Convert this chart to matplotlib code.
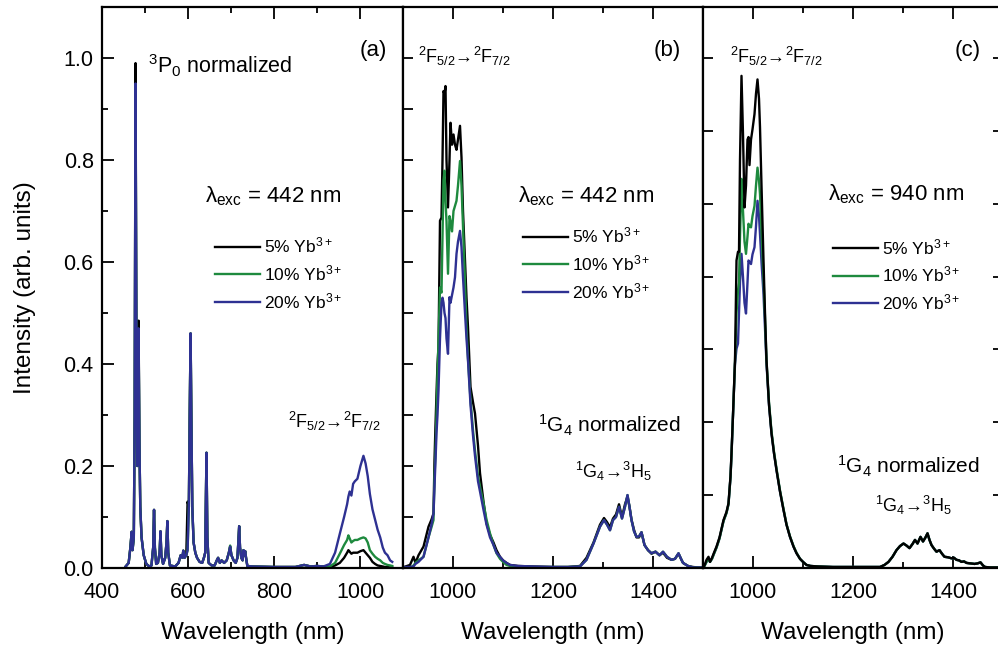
import matplotlib
matplotlib.use('Agg')
import matplotlib.pyplot as plt
from matplotlib.ticker import MultipleLocator, FormatStrFormatter, NullFormatter, FixedLocator

plt.rcParams['font.family'] = ['Liberation Sans', 'DejaVu Sans']
plt.rcParams['mathtext.fontset'] = 'custom'
plt.rcParams['mathtext.rm'] = 'Liberation Sans'
plt.rcParams['mathtext.it'] = 'Liberation Sans:italic'
plt.rcParams['mathtext.bf'] = 'Liberation Sans:bold'

labels = ['5% Yb$^{3+}$', '10% Yb$^{3+}$', '20% Yb$^{3+}$']
colors = ['black', '#1e8a3e', '#2e3192']

# --- panel (a): visible part of the spectrum (exc 442 nm) ---
a_vis_wl = [455, 462, 466, 469, 471, 474, 476, 478, 480, 482,
            484, 485, 487, 489, 492, 497, 503, 510, 515, 519,
            521, 523, 526, 530, 534, 536, 538, 542, 547, 550,
            552, 554, 558, 570, 578, 583, 587, 589, 592, 596,
            599, 602, 604, 606, 608, 610, 613, 617, 621, 627,
            633, 637, 640, 643, 645, 648, 655, 662, 667, 670,
            674, 678, 684, 690, 695, 698, 701, 706, 711, 715,
            717, 719, 721, 724, 727, 729, 731, 733, 735, 738,
            750, 800, 850, 870, 885, 900, 915]
a_vis_black = [0.003, 0.010, 0.040, 0.071, 0.035, 0.060, 0.300, 0.990, 0.450, 0.200,
               0.330, 0.485, 0.250, 0.120, 0.060, 0.025, 0.008, 0.003, 0.005, 0.040,
               0.114, 0.040, 0.008, 0.010, 0.030, 0.072, 0.025, 0.008, 0.020, 0.050,
               0.092, 0.030, 0.005, 0.003, 0.010, 0.025, 0.020, 0.034, 0.020, 0.025,
               0.130, 0.120, 0.300, 0.460, 0.280, 0.120, 0.050, 0.030, 0.020, 0.012,
               0.010, 0.020, 0.030, 0.226, 0.060, 0.010, 0.005, 0.005, 0.015, 0.020,
               0.010, 0.015, 0.010, 0.015, 0.030, 0.042, 0.025, 0.015, 0.010, 0.020,
               0.050, 0.082, 0.040, 0.020, 0.015, 0.035, 0.025, 0.033, 0.020, 0.004,
               0.003, 0.002, 0.002, 0.006, 0.003, 0.004, 0.003]
a_vis_green = [0.003, 0.010, 0.040, 0.071, 0.035, 0.060, 0.300, 0.930, 0.450, 0.200,
               0.330, 0.460, 0.250, 0.120, 0.060, 0.025, 0.008, 0.003, 0.005, 0.040,
               0.114, 0.040, 0.008, 0.010, 0.030, 0.072, 0.025, 0.008, 0.020, 0.050,
               0.092, 0.030, 0.005, 0.003, 0.010, 0.025, 0.020, 0.034, 0.020, 0.025,
               0.035, 0.120, 0.300, 0.460, 0.280, 0.120, 0.050, 0.030, 0.020, 0.012,
               0.010, 0.020, 0.030, 0.226, 0.060, 0.010, 0.005, 0.005, 0.015, 0.020,
               0.010, 0.015, 0.010, 0.015, 0.030, 0.044, 0.025, 0.015, 0.010, 0.020,
               0.050, 0.082, 0.040, 0.020, 0.015, 0.035, 0.025, 0.033, 0.020, 0.004,
               0.003, 0.002, 0.002, 0.006, 0.003, 0.004, 0.003]
a_vis_blue = [0.003, 0.010, 0.040, 0.071, 0.035, 0.060, 0.300, 0.950, 0.450, 0.200,
              0.330, 0.470, 0.250, 0.120, 0.060, 0.025, 0.008, 0.003, 0.005, 0.040,
              0.114, 0.040, 0.008, 0.010, 0.030, 0.072, 0.025, 0.008, 0.020, 0.050,
              0.092, 0.030, 0.005, 0.003, 0.010, 0.025, 0.020, 0.034, 0.020, 0.025,
              0.035, 0.120, 0.300, 0.460, 0.280, 0.120, 0.050, 0.030, 0.020, 0.012,
              0.010, 0.020, 0.030, 0.226, 0.060, 0.010, 0.005, 0.005, 0.015, 0.020,
              0.010, 0.015, 0.010, 0.015, 0.030, 0.042, 0.025, 0.015, 0.010, 0.020,
              0.050, 0.082, 0.040, 0.020, 0.015, 0.035, 0.025, 0.033, 0.020, 0.004,
              0.003, 0.002, 0.002, 0.006, 0.003, 0.004, 0.003]

# --- panel (a): Yb NIR band ---
a_nir_wl = [930, 942, 953, 963, 970, 973, 976, 980, 984, 988,
            994, 1001, 1008, 1013, 1018, 1023, 1029, 1035, 1041, 1047,
            1053, 1058, 1064, 1070, 1075]
a_nir_black = [0.002, 0.005, 0.010, 0.020, 0.030, 0.035, 0.032, 0.028, 0.030, 0.030,
               0.030, 0.033, 0.035, 0.030, 0.025, 0.020, 0.012, 0.008, 0.005, 0.004,
               0.003, 0.002, 0.002, 0.001, 0.001]
a_nir_green = [0.003, 0.010, 0.028, 0.045, 0.055, 0.064, 0.058, 0.050, 0.053, 0.055,
               0.055, 0.058, 0.060, 0.058, 0.050, 0.035, 0.028, 0.022, 0.018, 0.015,
               0.010, 0.008, 0.006, 0.005, 0.004]
a_nir_blue = [0.008, 0.030, 0.067, 0.100, 0.125, 0.140, 0.150, 0.142, 0.165, 0.170,
              0.175, 0.200, 0.220, 0.205, 0.180, 0.145, 0.115, 0.095, 0.075, 0.060,
              0.040, 0.030, 0.025, 0.015, 0.012]

# --- panel (b): exc 442 nm, NIR ---
b_wl = [905, 914, 921, 925, 931, 941, 951, 957, 961, 963,
        965, 967, 969, 971, 974, 977, 979, 981, 983, 985,
        987, 990, 993, 995, 998, 1001, 1004, 1007, 1010, 1014,
        1017, 1020, 1024, 1027, 1030, 1035, 1040, 1044, 1050, 1054,
        1061, 1067, 1074, 1081, 1087, 1094, 1100, 1107, 1114, 1130,
        1160, 1200, 1230, 1254, 1267, 1281, 1294, 1302, 1308, 1314,
        1320, 1326, 1332, 1338, 1344, 1349, 1353, 1357, 1362, 1367,
        1372, 1377, 1383, 1390, 1397, 1405, 1413, 1420, 1428, 1437,
        1444, 1451, 1456, 1460, 1470, 1480, 1490, 1500]
b_black = [0.003, 0.006, 0.022, 0.010, 0.025, 0.042, 0.081, 0.095, 0.107, 0.211,
           0.280, 0.342, 0.400, 0.433, 0.681, 0.687, 0.800, 0.935, 0.930, 0.945,
           0.800, 0.707, 0.800, 0.873, 0.830, 0.850, 0.830, 0.820, 0.840, 0.867,
           0.805, 0.700, 0.603, 0.530, 0.472, 0.355, 0.325, 0.303, 0.240, 0.186,
           0.130, 0.088, 0.065, 0.050, 0.035, 0.022, 0.015, 0.010, 0.006, 0.004,
           0.003, 0.002, 0.002, 0.004, 0.020, 0.050, 0.085, 0.098, 0.090, 0.080,
           0.097, 0.105, 0.125, 0.100, 0.125, 0.140, 0.120, 0.095, 0.075, 0.060,
           0.060, 0.070, 0.045, 0.035, 0.028, 0.032, 0.025, 0.030, 0.020, 0.016,
           0.018, 0.028, 0.018, 0.010, 0.004, 0.002, 0.001, 0.001]
b_green = [0.001, 0.000, 0.005, 0.010, 0.015, 0.022, 0.060, 0.080, 0.094, 0.180,
           0.225, 0.300, 0.380, 0.446, 0.550, 0.540, 0.650, 0.760, 0.779, 0.720,
           0.680, 0.577, 0.690, 0.680, 0.660, 0.700, 0.710, 0.720, 0.750, 0.798,
           0.750, 0.670, 0.560, 0.472, 0.410, 0.330, 0.270, 0.230, 0.180, 0.160,
           0.127, 0.095, 0.068, 0.045, 0.029, 0.018, 0.012, 0.006, 0.004, 0.003,
           0.002, 0.002, 0.002, 0.003, 0.016, 0.048, 0.081, 0.094, 0.085, 0.074,
           0.094, 0.100, 0.120, 0.097, 0.120, 0.143, 0.120, 0.094, 0.072, 0.061,
           0.062, 0.070, 0.045, 0.035, 0.029, 0.032, 0.025, 0.032, 0.022, 0.016,
           0.018, 0.029, 0.018, 0.010, 0.004, 0.001, 0.001, 0.001]
b_blue = [0.002, 0.002, 0.003, 0.008, 0.012, 0.022, 0.060, 0.085, 0.107, 0.160,
          0.210, 0.264, 0.300, 0.348, 0.450, 0.520, 0.530, 0.520, 0.500, 0.490,
          0.450, 0.420, 0.531, 0.520, 0.535, 0.550, 0.570, 0.616, 0.640, 0.661,
          0.629, 0.570, 0.500, 0.450, 0.407, 0.320, 0.260, 0.220, 0.170, 0.150,
          0.114, 0.085, 0.060, 0.045, 0.030, 0.022, 0.015, 0.010, 0.006, 0.004,
          0.003, 0.002, 0.002, 0.003, 0.016, 0.048, 0.081, 0.094, 0.085, 0.074,
          0.094, 0.100, 0.120, 0.097, 0.120, 0.143, 0.120, 0.094, 0.072, 0.061,
          0.062, 0.070, 0.045, 0.035, 0.029, 0.032, 0.025, 0.032, 0.022, 0.016,
          0.018, 0.029, 0.018, 0.010, 0.004, 0.001, 0.001, 0.001]

# --- panel (c): exc 940 nm, NIR ---
c_wl = [900, 903, 907, 911, 914, 918, 922, 927, 933, 941,
        947, 951, 955, 957, 960, 964, 967, 970, 972, 974,
        977, 980, 983, 986, 989, 991, 993, 996, 999, 1003,
        1006, 1009, 1012, 1014, 1017, 1021, 1024, 1027, 1032, 1037,
        1042, 1047, 1054, 1061, 1067, 1074, 1081, 1087, 1094, 1100,
        1107, 1115, 1130, 1160, 1200, 1230, 1254, 1263, 1271, 1279,
        1287, 1294, 1301, 1307, 1313, 1319, 1324, 1329, 1335, 1340,
        1345, 1349, 1353, 1357, 1362, 1367, 1373, 1378, 1383, 1390,
        1397, 1402, 1407, 1412, 1417, 1422, 1427, 1435, 1443, 1449,
        1455, 1460, 1464, 1475, 1490, 1500]
c_black = [0.002, 0.005, 0.016, 0.022, 0.012, 0.020, 0.030, 0.042, 0.060, 0.094,
           0.110, 0.127, 0.180, 0.225, 0.300, 0.407, 0.603, 0.620, 0.620, 0.800,
           0.965, 0.850, 0.707, 0.750, 0.840, 0.845, 0.790, 0.840, 0.860, 0.890,
           0.930, 0.958, 0.920, 0.864, 0.750, 0.603, 0.500, 0.407, 0.320, 0.264,
           0.225, 0.192, 0.150, 0.114, 0.085, 0.061, 0.042, 0.029, 0.018, 0.012,
           0.006, 0.004, 0.003, 0.002, 0.002, 0.002, 0.002, 0.006, 0.012, 0.022,
           0.035, 0.043, 0.048, 0.044, 0.039, 0.047, 0.055, 0.048, 0.061, 0.052,
           0.060, 0.068, 0.055, 0.045, 0.038, 0.032, 0.035, 0.028, 0.022, 0.021,
           0.019, 0.020, 0.016, 0.015, 0.012, 0.013, 0.010, 0.009, 0.008, 0.009,
           0.011, 0.005, 0.002, 0.001, 0.001, 0.001]
c_green = [0.002, 0.004, 0.012, 0.018, 0.012, 0.018, 0.028, 0.040, 0.058, 0.092,
           0.108, 0.125, 0.178, 0.222, 0.300, 0.405, 0.500, 0.544, 0.560, 0.650,
           0.763, 0.700, 0.640, 0.616, 0.650, 0.675, 0.670, 0.668, 0.690, 0.710,
           0.750, 0.785, 0.760, 0.733, 0.660, 0.570, 0.490, 0.407, 0.325, 0.268,
           0.228, 0.195, 0.152, 0.116, 0.086, 0.062, 0.043, 0.030, 0.018, 0.012,
           0.006, 0.004, 0.003, 0.002, 0.002, 0.002, 0.002, 0.006, 0.012, 0.022,
           0.035, 0.043, 0.048, 0.044, 0.039, 0.047, 0.055, 0.048, 0.061, 0.052,
           0.060, 0.068, 0.055, 0.045, 0.038, 0.032, 0.035, 0.028, 0.022, 0.021,
           0.019, 0.020, 0.016, 0.015, 0.012, 0.013, 0.010, 0.009, 0.008, 0.009,
           0.011, 0.005, 0.002, 0.001, 0.001, 0.001]
c_blue = [0.002, 0.004, 0.012, 0.018, 0.012, 0.018, 0.028, 0.040, 0.058, 0.092,
          0.108, 0.125, 0.178, 0.222, 0.300, 0.400, 0.430, 0.440, 0.500, 0.560,
          0.616, 0.570, 0.520, 0.499, 0.560, 0.603, 0.600, 0.596, 0.615, 0.629,
          0.670, 0.720, 0.690, 0.655, 0.600, 0.537, 0.470, 0.400, 0.320, 0.264,
          0.225, 0.192, 0.150, 0.114, 0.085, 0.061, 0.042, 0.029, 0.018, 0.012,
          0.006, 0.004, 0.003, 0.002, 0.002, 0.002, 0.002, 0.006, 0.012, 0.022,
          0.035, 0.043, 0.048, 0.044, 0.039, 0.047, 0.055, 0.048, 0.061, 0.052,
          0.060, 0.068, 0.055, 0.045, 0.038, 0.032, 0.035, 0.028, 0.022, 0.021,
          0.019, 0.020, 0.016, 0.015, 0.012, 0.013, 0.010, 0.009, 0.008, 0.009,
          0.011, 0.005, 0.002, 0.001, 0.001, 0.001]

F_TRANS = '$^{2}$F$_{5/2}$\u2192$^{2}$F$_{7/2}$'
G_TRANS = '$^{1}$G$_{4}$\u2192$^{3}$H$_{5}$'
G_NORM = '$^{1}$G$_{4}$ normalized'
LW = 1.7
LEG_KW = dict(loc='upper left', frameon=False, fontsize=12.5, handlelength=2.6,
              handletextpad=0.25, labelspacing=0.45, borderpad=0, borderaxespad=0)


def style_axis(ax, xlim, xmajor):
    ax.set_xlim(*xlim)
    ax.set_ylim(0, 1.1)
    ax.xaxis.set_major_locator(MultipleLocator(xmajor))
    ax.xaxis.set_minor_locator(MultipleLocator(100))
    ax.tick_params(axis='both', which='both', direction='in', top=True, width=1.3)
    ax.tick_params(axis='both', which='major', length=8.5, labelsize=15.5, pad=6)
    ax.tick_params(axis='x', which='major', pad=10)
    ax.tick_params(axis='both', which='minor', length=4.5)
    for s in ax.spines.values():
        s.set_linewidth(1.6)
    ax.set_xlabel('Wavelength (nm)', fontsize=17.5, labelpad=14)


fig = plt.figure(figsize=(9.98, 6.49), dpi=100)
bot = 1 - 568 / 649
hgt = 561 / 649
ax_a = fig.add_axes([102 / 998, bot, 301 / 998, hgt])
ax_b = fig.add_axes([403 / 998, bot, 300 / 998, hgt])
ax_c = fig.add_axes([703 / 998, bot, 300 / 998, hgt])

# (a)
a_series = [a_vis_black + a_nir_black, a_vis_green + a_nir_green, a_vis_blue + a_nir_blue]
for vals, col, lab in zip(a_series, colors, labels):
    ax_a.plot(a_vis_wl + a_nir_wl, vals, color=col, lw=LW, label=lab)
style_axis(ax_a, (400, 1100), 200)
ax_a.yaxis.set_major_locator(MultipleLocator(0.2))
ax_a.yaxis.set_minor_locator(MultipleLocator(0.1))
ax_a.yaxis.set_major_formatter(FormatStrFormatter('%.1f'))
ax_a.tick_params(axis='y', which='both', right=False)
ax_a.set_ylabel('Intensity (arb. units)', fontsize=17.5, labelpad=20)
ax_a.text(0.90, 0.923, '(a)', transform=ax_a.transAxes, fontsize=16, ha='center', va='center')
ax_a.text(0.153, 0.882, '$^{3}$P$_{0}$ normalized', transform=ax_a.transAxes, fontsize=15.5, va='baseline')
ax_a.text(0.342, 0.651, '\u03bb$_{\\mathrm{exc}}$ = 442 nm', transform=ax_a.transAxes, fontsize=16, va='baseline')
ax_a.text(0.618, 0.25, F_TRANS, transform=ax_a.transAxes, fontsize=13, va='baseline')
ax_a.legend(bbox_to_anchor=(0.375, 0.592), **LEG_KW)

# (b)
for vals, col, lab in zip([b_black, b_green, b_blue], colors, labels):
    ax_b.plot(b_wl, vals, color=col, lw=LW, label=lab)
style_axis(ax_b, (900, 1500), 200)
ax_b.yaxis.set_major_locator(MultipleLocator(0.1))
ax_b.yaxis.set_major_formatter(NullFormatter())
ax_b.tick_params(axis='y', which='major', right=False, length=7)
ax_b.text(0.88, 0.923, '(b)', transform=ax_b.transAxes, fontsize=16, ha='center', va='center')
ax_b.text(0.05, 0.90, F_TRANS, transform=ax_b.transAxes, fontsize=13, va='baseline')
ax_b.text(0.383, 0.652, '\u03bb$_{\\mathrm{exc}}$ = 442 nm', transform=ax_b.transAxes, fontsize=16, va='baseline')
ax_b.text(0.45, 0.241, G_NORM, transform=ax_b.transAxes, fontsize=15, va='baseline')
ax_b.text(0.573, 0.160, G_TRANS, transform=ax_b.transAxes, fontsize=13, va='baseline')
ax_b.legend(bbox_to_anchor=(0.40, 0.610), **LEG_KW)

# (c) - black drawn on top here
c_series = [c_black, c_green, c_blue]
for i in [2, 1, 0]:
    ax_c.plot(c_wl, c_series[i], color=colors[i], lw=LW, label=labels[i])
style_axis(ax_c, (900, 1500), 200)
ax_c.yaxis.set_major_locator(FixedLocator([k / 7 for k in range(8)]))
ax_c.yaxis.set_major_formatter(NullFormatter())
ax_c.tick_params(axis='y', which='major', left=True, right=True, length=7)
ax_c.text(0.883, 0.923, '(c)', transform=ax_c.transAxes, fontsize=16, ha='center', va='center')
ax_c.text(0.09, 0.90, F_TRANS, transform=ax_c.transAxes, fontsize=13, va='baseline')
ax_c.text(0.417, 0.656, '\u03bb$_{\\mathrm{exc}}$ = 940 nm', transform=ax_c.transAxes, fontsize=16, va='baseline')
ax_c.text(0.447, 0.169, G_NORM, transform=ax_c.transAxes, fontsize=15, va='baseline')
ax_c.text(0.573, 0.10, G_TRANS, transform=ax_c.transAxes, fontsize=13, va='baseline')
h, l = ax_c.get_legend_handles_labels()
ax_c.legend(h[::-1], l[::-1], bbox_to_anchor=(0.433, 0.590), **LEG_KW)

fig.savefig('out.png', dpi=100)
